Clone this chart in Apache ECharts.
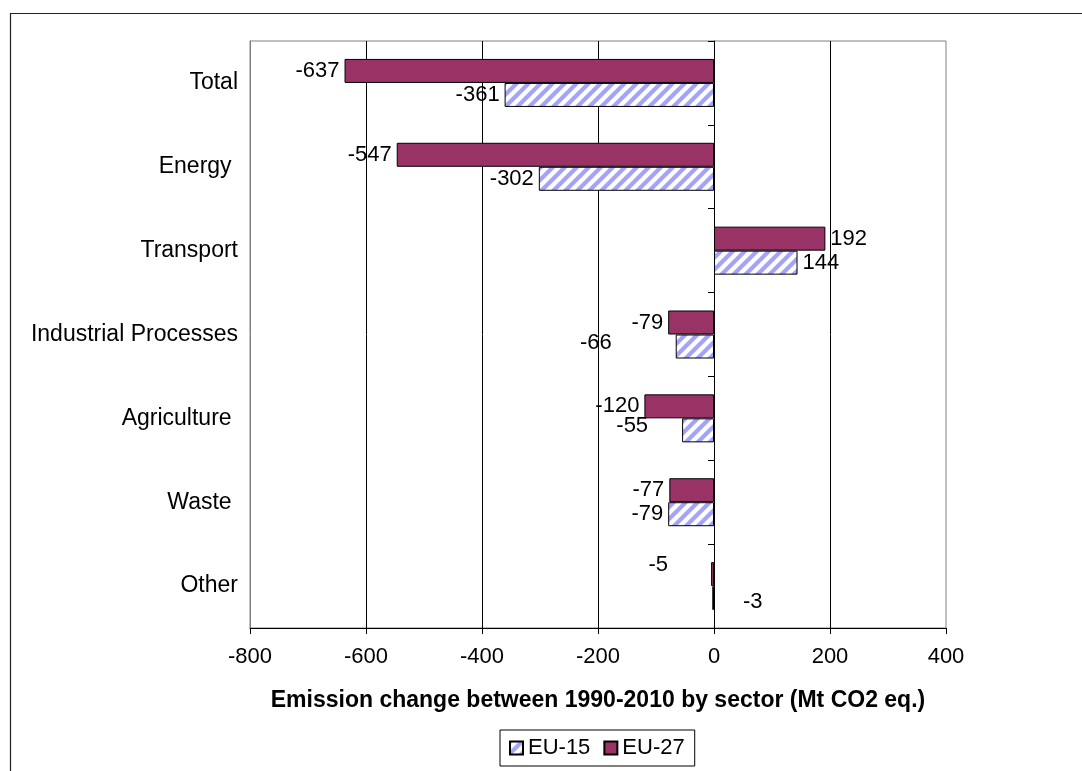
<!DOCTYPE html>
<html>
<head>
<meta charset="utf-8">
<script src="https://cdn.jsdelivr.net/npm/echarts@6/dist/echarts.min.js"></script>
<style>
html,body{margin:0;padding:0;background:#fff;}
#chart{width:1082px;height:771px;}
</style>
</head>
<body>
<div id="chart"></div>
<script>
// ---- data ----
const categories = ['Total', 'Energy ', 'Transport', 'Industrial Processes', 'Agriculture ', 'Waste ', 'Other'];
const eu27 = [-637, -547, 192, -79, -120, -77, -5];
const eu15 = [-361, -302, 144, -66, -55, -79, -3];
const xTicks = [-800, -600, -400, -200, 0, 200, 400];
const axisTitle = 'Emission change between 1990-2010 by sector (Mt CO2 eq.)';

// ---- label placement tweaks (Excel-style irregular placement) ----
const labelTweaks27 = { 6: { distance: 43, offset: [0, -9] } };
const labelTweaks15 = { 3: { distance: 64, offset: [0, -4] }, 4: { distance: 34, offset: [0, -4] }, 6: { position: 'right', distance: 29, offset: [0, 4] } };

const FONT = "'Liberation Sans', Arial, sans-serif";
const FS = 22;

function makeHatch() {
  const s = 12;
  const c = document.createElement('canvas');
  c.width = s; c.height = s;
  const g = c.getContext('2d');
  g.fillStyle = '#ffffff';
  g.fillRect(0, 0, s, s);
  g.strokeStyle = '#a3a3fa';
  g.lineWidth = 4.2;
  g.beginPath();
  g.moveTo(0, s); g.lineTo(s, 0);
  g.moveTo(-3, 3); g.lineTo(3, -3);
  g.moveTo(s - 3, s + 3); g.lineTo(s + 3, s - 3);
  g.stroke();
  return c;
}
const hatch = { image: makeHatch(), repeat: 'repeat' };

function buildData(values, tweaks) {
  return values.map((v, i) => {
    const item = { value: v, label: { position: v < 0 ? 'left' : 'right' } };
    if (tweaks[i]) Object.assign(item.label, tweaks[i]);
    return item;
  });
}

const labelBase = { show: true, color: '#000', fontFamily: FONT, fontSize: FS, distance: 5 };

const chart = echarts.init(document.getElementById('chart'), null, { renderer: 'canvas' });
chart.setOption({
  animation: false,
  backgroundColor: '#fff',
  textStyle: { fontFamily: FONT },
  graphic: [{
    type: 'rect', silent: true, z: -10,
    shape: { x: 10.5, y: 13.5, width: 1200, height: 1000 },
    style: { fill: null, stroke: '#222', lineWidth: 1.2 }
  }],
  grid: { left: 250, right: 136, top: 41, bottom: 143, show: true, borderColor: '#808080', borderWidth: 1, backgroundColor: 'transparent' },
  legend: {
    data: ['EU-15', 'EU-27'],
    left: 500, top: 730,
    orient: 'horizontal',
    itemWidth: 13, itemHeight: 13, itemGap: 13,
    padding: [7, 10, 7, 9],
    borderColor: '#000', borderWidth: 1,
    textStyle: { color: '#000', fontFamily: FONT, fontSize: FS },
    icon: 'rect'
  },
  xAxis: {
    type: 'value', min: xTicks[0], max: xTicks[xTicks.length - 1], interval: 200,
    name: axisTitle, nameLocation: 'middle', nameGap: 61,
    nameTextStyle: { color: '#000', fontFamily: FONT, fontSize: 23, fontWeight: 'bold' },
    axisLine: { show: true, lineStyle: { color: '#000', width: 1 } },
    axisTick: { show: true, length: 6, lineStyle: { color: '#000' } },
    axisLabel: { color: '#000', fontFamily: FONT, fontSize: FS, margin: 18 },
    splitLine: { show: true, showMinLine: false, showMaxLine: false, lineStyle: { color: '#000', width: 1 } }
  },
  yAxis: [{
    type: 'category', data: categories, inverse: true, position: 'left',
    axisLine: { show: true, onZero: false, lineStyle: { color: '#808080' } },
    axisTick: { show: false },
    axisLabel: { color: '#000', fontFamily: FONT, fontSize: 23, margin: 12 },
    splitLine: { show: false }
  }, {
    type: 'category', data: categories, inverse: true, position: 'left',
    axisLine: { show: true, onZero: true, lineStyle: { color: '#000' } },
    axisTick: { show: true, length: 6, lineStyle: { color: '#000' } },
    axisLabel: { show: false },
    splitLine: { show: false }
  }],
  series: [{
    name: 'EU-27', type: 'bar', yAxisIndex: 0,
    barWidth: 24, barGap: '0%',
    itemStyle: { color: '#993366', borderColor: '#000', borderWidth: 1 },
    label: labelBase,
    data: buildData(eu27, labelTweaks27)
  }, {
    name: 'EU-15', type: 'bar', yAxisIndex: 0,
    barWidth: 24, barGap: '0%',
    itemStyle: { color: hatch, borderColor: '#000', borderWidth: 1 },
    label: labelBase,
    data: buildData(eu15, labelTweaks15)
  }]
});
</script>
</body>
</html>
